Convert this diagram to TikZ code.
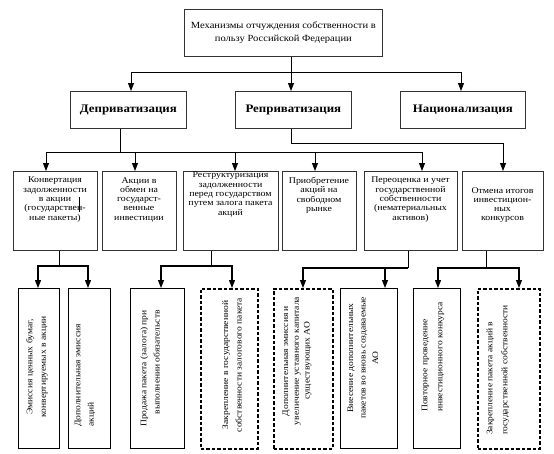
\documentclass[tikz,border=0pt]{standalone}
\usepackage{fontspec}
\setmainfont{Liberation Serif}[FakeStretch=1.12]
\usetikzlibrary{arrows.meta}
\begin{document}
\begin{tikzpicture}[x=1pt,y=-1pt,
  box/.style={draw=black!80, line width=0.7pt, inner sep=0pt, anchor=north west},
  dbox/.style={draw=black, line width=1.5pt, dash pattern=on 3.5pt off 2pt, inner sep=0pt, anchor=north west},
  ln/.style={draw=black, line width=0.8pt},
  arr/.style={draw=black, line width=0.8pt, -{Triangle[width=6pt,length=8pt]}},
  arrb/.style={draw=black, line width=1.2pt, -{Triangle[width=6pt,length=8pt]}},
  ttop/.style={font=\fontsize{9.4}{12.5}\selectfont, align=center},
  tlev2/.style={font=\fontsize{11.5}{13}\selectfont\bfseries, align=center},
  tlev3/.style={font=\fontsize{8.8}{9.3}\selectfont, align=center, inner sep=0pt, anchor=north},
  tlev4/.style={font=\fontsize{8.5}{13.3}\selectfont, inner sep=0pt, rotate=90},
]
\useasboundingbox (0,0) rectangle (554,453);
% level 1
\node[box, ttop, minimum width=198pt, minimum height=47pt] (T) at (184,9)
  {Механизмы отчуждения собственности в\\пользу Российской Федерации};
% level 2
\node[box, tlev2, minimum width=116pt, minimum height=37pt] (D2) at (70,91) {Деприватизация};
\node[box, tlev2, minimum width=116pt, minimum height=37pt] (R2) at (235,91) {Реприватизация};
\node[box, tlev2, minimum width=125pt, minimum height=37pt] (N2) at (400,91) {Национализация};
% level 3 boxes
\node[box, minimum width=84pt, minimum height=79pt] (B1) at (13,171) {};
\node[box, minimum width=74pt, minimum height=79pt] (B2) at (102,171) {};
\node[box, minimum width=95pt, minimum height=79pt] (B3) at (183,171) {};
\node[box, minimum width=74pt, minimum height=79pt] (B4) at (282,171) {};
\node[box, minimum width=93pt, minimum height=79pt] (B5) at (364,171) {};
\node[box, minimum width=81pt, minimum height=79pt] (B6) at (462,171) {};
% level 3 texts
\node[tlev3] (tB1) at (55,177) {Конвертация\\задолженности\\в акции\\(государствен-\\ные пакеты)};
\node[tlev3] (tB2) at (139,177) {Акции в\\обмен на\\государст-\\венные\\инвестиции};
\node[tlev3] (tB3) at (230.5,172) {Реструктуризация\\задолженности\\перед государством\\путем залога пакета\\акций};
\node[tlev3] (tB4) at (319,177) {Приобретение\\акций на\\свободном\\рынке};
\node[tlev3] (tB5) at (410.5,177) {Переоценка и учет\\государственной\\собственности\\(нематериальных\\активов)};
\node[tlev3] (tB6) at (502.5,187) {Отмена итогов\\инвестицион-\\ных\\конкурсов};
\draw[ln, line width=0.6pt] (79,197) -- (79,212);
% level 4 boxes
\node[box, draw=black, minimum width=41pt, minimum height=160pt] (A) at (18,288) {};
\node[box, draw=black, minimum width=42pt, minimum height=160pt] (B) at (68,288) {};
\node[box, draw=black, minimum width=54pt, minimum height=160pt] (C) at (130,288) {};
\node[dbox, minimum width=57pt, minimum height=160pt] (D) at (200,288) {};
\node[dbox, minimum width=59pt, minimum height=160pt] (E) at (273,288) {};
\node[box, draw=black, minimum width=57pt, minimum height=160pt] (F) at (340,288) {};
\node[box, draw=black, minimum width=47pt, minimum height=160pt] (G) at (413,288) {};
\node[dbox, minimum width=62pt, minimum height=160pt] (H) at (477,288) {};
% level 4 texts
\node[tlev4, align=center] (tA) at (37,367) {Эмиссия ценных бумаг,\\конвертируемых в акции};
\node[tlev4, align=left, anchor=west] (tB) at (85,427) {Дополнительная эмиссия\\акций};
\node[tlev4, align=right, anchor=east] (tC) at (150,310) {Продажа пакета (залога) при\\выполнении обязательств};
\node[tlev4, align=center] (tD) at (232,365) {Закрепление в государственной\\собственности залогового пакета};
\node[tlev4, align=center, font=\fontsize{8.5}{10.7}\selectfont] (tE) at (297,361) {Дополнительная эмиссия и\\увеличение уставного капитала\\существующих АО};
\node[tlev4, align=center, font=\fontsize{8.5}{12.5}\selectfont] (tF) at (363,358) {Внесение дополнительных\\пакетов во вновь создаваемые\\АО};
\node[tlev4, align=left, anchor=west, font=\fontsize{8.5}{15}\selectfont] (tG) at (433,412) {Повторное проведение\\инвестиционного конкурса};
\node[tlev4, align=left, anchor=west, font=\fontsize{8.5}{15}\selectfont] (tH) at (498,435) {Закрепление пакета акций в\\государственной собственности};
% connectors level 1 -> 2
\coordinate (j0) at (291,72);
\coordinate (j1) at (131,72);
\coordinate (j3) at (461,72);
\draw[ln] (T.south -| j0) -- (j0);
\draw[ln] (j1) -- (j3);
\draw[arr] (j1) -- (j1 |- D2.north);
\draw[arr] (j0) -- (j0 |- R2.north);
\draw[arr] (j3) -- (j3 |- N2.north);
% level 2 -> 3
\coordinate (d0) at (120,152);
\coordinate (c1) at (46,152);
\coordinate (c2) at (135,152);
\coordinate (c3) at (235,152);
\coordinate (c4) at (315,152);
\coordinate (c5) at (422,152);
\draw[ln] (D2.south -| d0) -- (d0);
\draw[ln] (c1) -- (c5);
\draw[arr] (c1) -- (c1 |- B1.north);
\draw[arr] (c2) -- (c2 |- B2.north);
\draw[arr] (c3) -- (c3 |- B3.north);
\draw[arr] (c4) -- (c4 |- B4.north);
\draw[arr] (c5) -- (c5 |- B5.north);
\coordinate (r0) at (291,143);
\coordinate (c6) at (503,143);
\draw[arr] (R2.south -| r0) -- (r0) -- (c6) -- (c6 |- B6.north);
% level 3 -> 4
\coordinate (e1) at (59,266);  \coordinate (f1) at (38,266);  \coordinate (f2) at (88,266);
\coordinate (e3) at (211,266); \coordinate (f3) at (161,266); \coordinate (f4) at (232,266);
\coordinate (e5) at (408,268); \coordinate (f5) at (303,268); \coordinate (f6) at (385,268);
\coordinate (e6) at (486,268); \coordinate (f7) at (438,268); \coordinate (f8) at (519,268);
\draw[ln] (B1.south -| e1) -- (e1);
\draw[ln] (B3.south -| e3) -- (e3);
\draw[ln] (B5.south -| e5) -- (e5);
\draw[ln] (B6.south -| e6) -- (e6);
\draw[arrb] (e1) -- (f1) -- (f1 |- A.north);
\draw[arrb] (e1) -- (f2) -- (f2 |- B.north);
\draw[arrb] (e3) -- (f3) -- (f3 |- C.north);
\draw[arrb] (e3) -- (f4) -- (f4 |- D.north);
\draw[arrb] (e5) -- (f5) -- (f5 |- E.north);
\draw[arrb] (e5) -- (f6) -- (f6 |- F.north);
\draw[arrb] (e6) -- (f7) -- (f7 |- G.north);
\draw[arrb] (e6) -- (f8) -- (f8 |- H.north);
\end{tikzpicture}
\end{document}
